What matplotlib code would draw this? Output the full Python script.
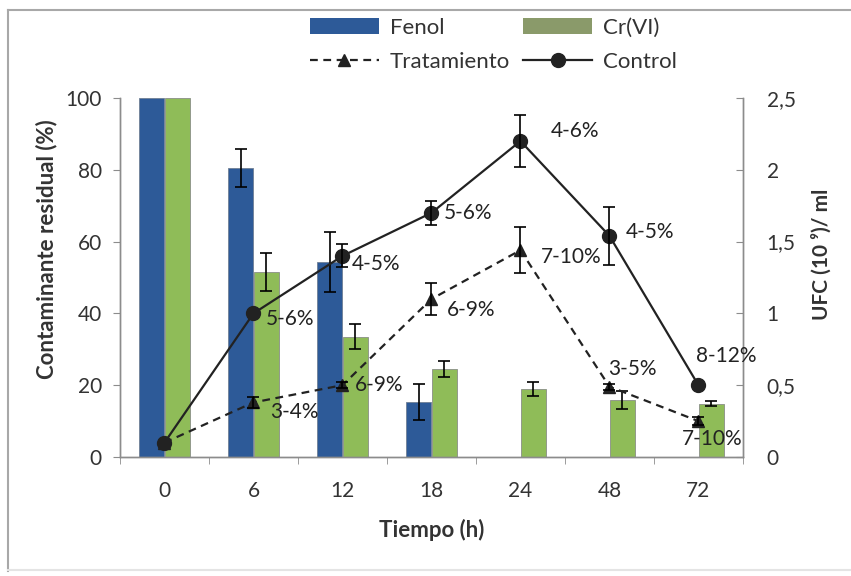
import numpy as np
import matplotlib.pyplot as plt
from matplotlib.patches import Patch
from matplotlib.lines import Line2D

plt.rcParams['font.family'] = ['Lato', 'DejaVu Sans']

tiempos = ["0", "6", "12", "18", "24", "48", "72"]

# residual contaminant (%)
fenol = [100, 80.4, 54.4, 15.3, 0, 0, 0]
fenol_err = [0, 5.3, 8.4, 5.1, 0, 0, 0]
cr_vi = [100, 51.4, 33.5, 24.6, 18.9, 15.9, 14.9]
cr_vi_err = [0, 5.3, 3.5, 2.2, 2.0, 2.5, 0.8]

# UFC (10^9)/ml
control = [0.1, 1.0, 1.4, 1.7, 2.2, 1.54, 0.5]
control_err = [0, 0, 0.08, 0.085, 0.18, 0.2, 0]
control_lbl = ["", "5-6%", "4-5%", "5-6%", "4-6%", "4-5%", "8-12%"]
tratamiento = [0.1, 0.38, 0.5, 1.1, 1.44, 0.49, 0.25]
tratamiento_err = [0, 0.04, 0.02, 0.11, 0.16, 0.02, 0.03]
tratamiento_lbl = ["", "3-4%", "6-9%", "6-9%", "7-10%", "3-5%", "7-10%"]

# label offsets in points (x, y)
control_off = [(0, 0), (9, -4), (7, -6), (9, 0), (22, 7), (12, 3), (-2, 21)]
tratamiento_off = [(0, 0), (12, -7), (9, 0), (11, -8), (15, -5), (-1, 13),
                   (-12, -13)]

blue = "#2D5A98"
green = "#8FBC58"
gray = "#8C8C8C"
dark = "#222222"
txt = "#333333"
dash = (0, (3.5, 2.5))


def nz(vals):
    # hide zero-length error bars
    return [v if v > 0 else np.nan for v in vals]


fig = plt.figure(figsize=(8.51, 5.76), dpi=100)
ax = fig.add_axes([0.141, 0.2066, 0.732, 0.6233])
ax2 = ax.twinx()

x = np.arange(len(tiempos))
w = 0.28
xf = x - w / 2 - 0.005
xc = x + w / 2 + 0.005
ax.bar(xf, fenol, w, color=blue, edgecolor="#6f7f95",
       linewidth=[0.6 if v > 0 else 0 for v in fenol])
ax.bar(xc, cr_vi, w, color=green, edgecolor="#8a8f86", linewidth=0.6)
ekw = dict(fmt="none", ecolor="black", elinewidth=1.2, capsize=4,
           capthick=1.2)
ax.errorbar(xf, fenol, yerr=nz(fenol_err), **ekw)
ax.errorbar(xc, cr_vi, yerr=nz(cr_vi_err), **ekw)

ax2.plot(x, tratamiento, color=dark, linestyle=dash, linewidth=1.6,
         marker="^", markersize=9)
ax2.errorbar(x, tratamiento, yerr=nz(tratamiento_err), **ekw)
ax2.plot(x, control, color=dark, linestyle="-", linewidth=1.6,
         marker="o", markersize=10)
ax2.errorbar(x, control, yerr=nz(control_err), **ekw)

for i in range(len(x)):
    if control_lbl[i]:
        ax2.annotate(control_lbl[i], (x[i], control[i]),
                     xytext=control_off[i], textcoords="offset points",
                     ha="left", va="center", fontsize=15, color=dark)
    if tratamiento_lbl[i]:
        ax2.annotate(tratamiento_lbl[i], (x[i], tratamiento[i]),
                     xytext=tratamiento_off[i], textcoords="offset points",
                     ha="left", va="center", fontsize=15, color=dark)

ax.set_xlim(-0.5, len(x) - 0.5)
ax.set_ylim(0, 100)
ax2.set_ylim(0, 2.5)

ax.set_xticks(x)
ax.set_xticklabels(tiempos)
ax.set_xticks(np.arange(-0.5, len(x)), minor=True)
ax.tick_params(axis="x", which="major", length=0, pad=17, labelsize=15,
               labelcolor=txt)
ax.tick_params(axis="x", which="minor", length=5, direction="out",
               color=gray)

ax.set_yticks(np.arange(0, 101, 20))
ax.tick_params(axis="y", length=5, direction="out", color=gray,
               labelsize=15, labelcolor=txt, pad=8)

ax2.set_yticks([0, 0.5, 1, 1.5, 2, 2.5])
ax2.set_yticklabels(["0", "0,5", "1", "1,5", "2", "2,5"])
ax2.tick_params(axis="y", length=5, direction="in", color=gray,
                labelsize=15, labelcolor=txt, pad=17)

for a in (ax, ax2):
    a.spines["top"].set_visible(False)
    for s in ("left", "right", "bottom"):
        a.spines[s].set_color(gray)
        a.spines[s].set_linewidth(1.0)

ax.set_xlabel("Tiempo (h)", fontsize=16, fontweight="bold", color=txt,
              labelpad=13)
ax.set_ylabel("Contaminante residual (%)", fontsize=16, fontweight="bold",
              color=txt)
ax.yaxis.set_label_coords(-0.1, 0.58)
ax2.set_ylabel("UFC (10 ⁹)/ ml", fontsize=15, fontweight="bold",
               color=txt)
ax2.yaxis.set_label_coords(1.11, 0.565)

handles = [
    Patch(facecolor=blue, edgecolor="none"),
    Line2D([], [], color=dark, linestyle=dash, linewidth=1.6, marker="^",
           markersize=9),
    Patch(facecolor="#8A9A6A", edgecolor="none"),
    Line2D([], [], color=dark, linestyle="-", linewidth=1.6, marker="o",
           markersize=10),
]
labels = ["Fenol", "Tratamiento", "Cr(VI)", "Control"]
leg = fig.legend(handles, labels, ncol=2, loc="center",
                 bbox_to_anchor=(0.58, 0.922), frameon=False, fontsize=16,
                 handlelength=3.1, columnspacing=0.6, handletextpad=0.5,
                 labelspacing=0.62)
for t in leg.get_texts():
    t.set_color(txt)

# outer frame: left, top and a faint bottom edge
fig.add_artist(Line2D([0.009, 0.009], [0.008, 0.982],
                      transform=fig.transFigure, color="#a8a8a8", lw=1.5))
fig.add_artist(Line2D([0.009, 1.0], [0.982, 0.982],
                      transform=fig.transFigure, color="#a8a8a8", lw=1.5))
fig.add_artist(Line2D([0.009, 1.0], [0.01, 0.01],
                      transform=fig.transFigure, color="#e4e4e4", lw=1.5))

fig.savefig("out.png", dpi=100)
